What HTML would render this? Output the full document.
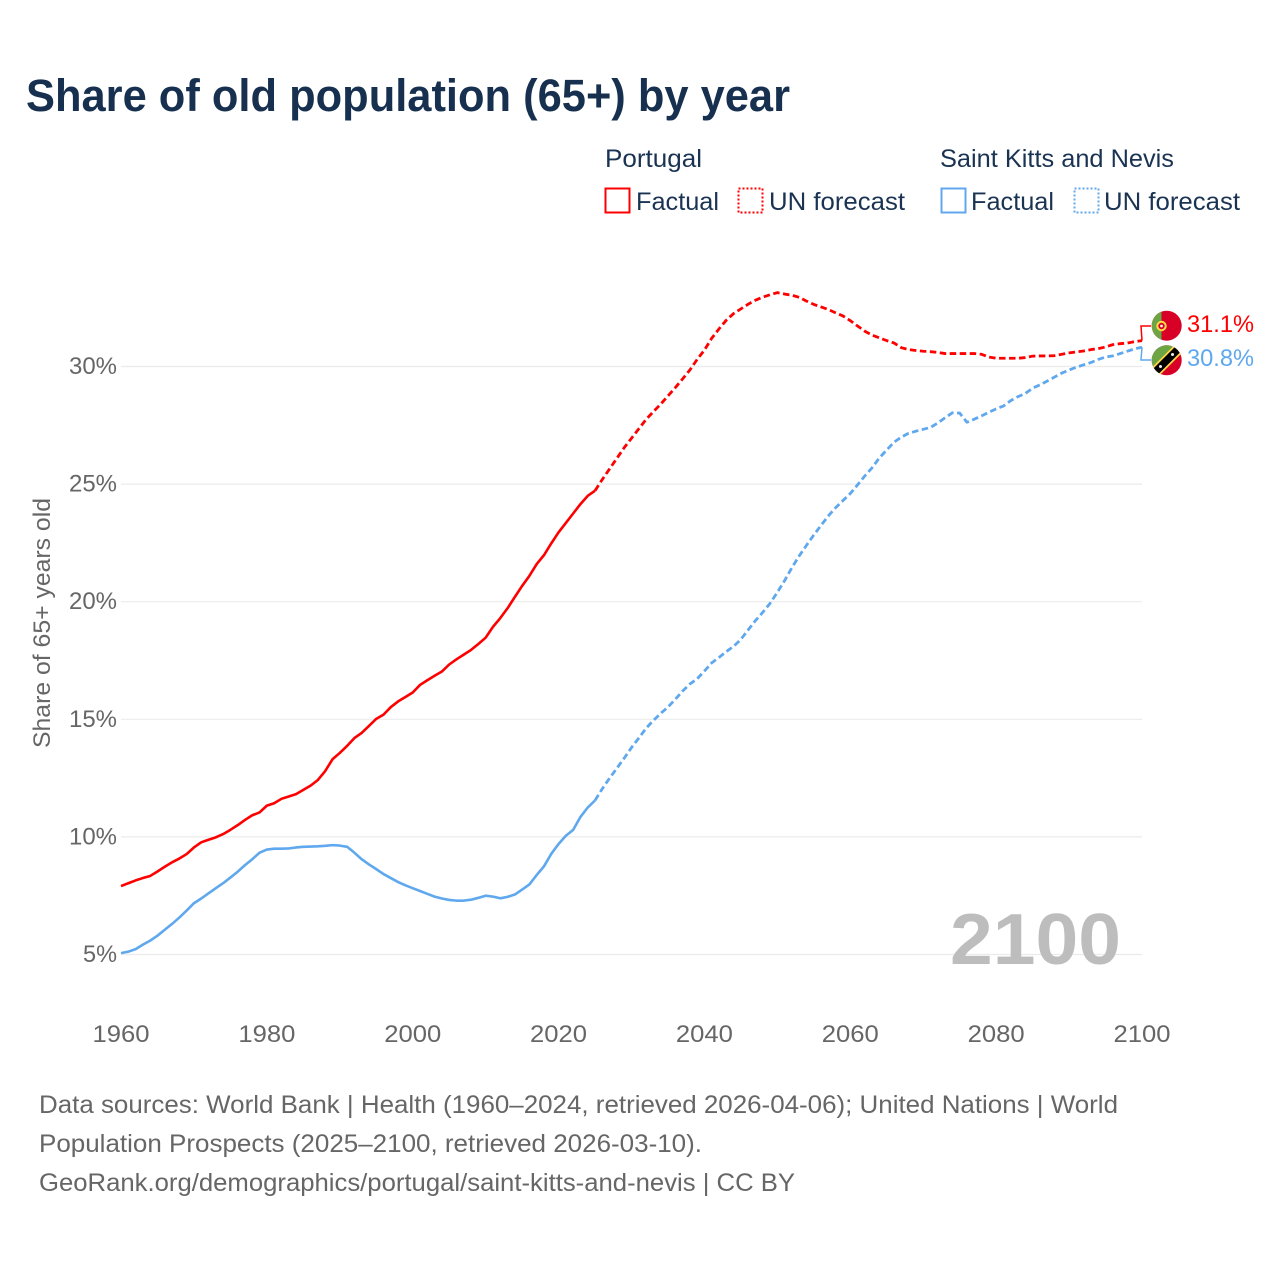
<!DOCTYPE html>
<html lang="en">
<head>
<meta charset="utf-8">
<title>Share of old population (65+) by year</title>
<style>
html,body{margin:0;padding:0;background:#fff;}
svg{display:block;font-family:"Liberation Sans",sans-serif;}
</style>
</head>
<body>
<svg id="chart" xmlns="http://www.w3.org/2000/svg" width="1280" height="1280" viewBox="0 0 1280 1280">
  <rect x="0" y="0" width="1280" height="1280" fill="#fff"/>
  <text x="26" y="111" font-size="45" font-weight="bold" fill="#17304f" textLength="764" lengthAdjust="spacingAndGlyphs">Share of old population (65+) by year</text>

  <g font-size="25" fill="#1a3352">
    <text x="605" y="167" textLength="97" lengthAdjust="spacingAndGlyphs">Portugal</text>
    <rect x="605.5" y="188.5" width="24" height="24" fill="none" stroke="#ff0000" stroke-width="2"/>
    <text x="636" y="210" textLength="83" lengthAdjust="spacingAndGlyphs">Factual</text>
    <rect x="738.5" y="188.5" width="24" height="24" fill="none" stroke="#ff0000" stroke-width="2" stroke-dasharray="2 2"/>
    <text x="769" y="210" textLength="136" lengthAdjust="spacingAndGlyphs">UN forecast</text>

    <text x="940" y="167" textLength="234" lengthAdjust="spacingAndGlyphs">Saint Kitts and Nevis</text>
    <rect x="941.5" y="188.5" width="24" height="24" fill="none" stroke="#5fa8ee" stroke-width="2"/>
    <text x="971" y="210" textLength="83" lengthAdjust="spacingAndGlyphs">Factual</text>
    <rect x="1074.5" y="188.5" width="24" height="24" fill="none" stroke="#5fa8ee" stroke-width="2" stroke-dasharray="2 2"/>
    <text x="1104" y="210" textLength="136" lengthAdjust="spacingAndGlyphs">UN forecast</text>
  </g>

  <text transform="translate(50,623) rotate(-90)" text-anchor="middle" font-size="24" fill="#666" textLength="250" lengthAdjust="spacingAndGlyphs">Share of 65+ years old</text>

  <g id="grid"></g>
  <g id="yticks"></g>
  <g id="xticks"></g>

  <text x="950" y="964" font-size="72" font-weight="bold" fill="#bdbdbd" textLength="171" lengthAdjust="spacingAndGlyphs">2100</text>

  <g id="series"></g>

  <defs>
    <clipPath id="clip-pt"><circle cx="1166.7" cy="325.7" r="15"/></clipPath>
    <clipPath id="clip-kn"><circle cx="1166.7" cy="360.3" r="15"/></clipPath>
  </defs>
  <g clip-path="url(#clip-pt)">
    <rect x="1151" y="310" width="32" height="32" fill="#d80027"/>
    <rect x="1151" y="310" width="10.5" height="32" fill="#6da544"/>
    <circle cx="1161.5" cy="326" r="4.2" fill="#d80027" stroke="#ffda44" stroke-width="2"/>
    <circle cx="1161.5" cy="326" r="1.4" fill="#eee"/>
  </g>
  <g clip-path="url(#clip-kn)">
    <rect x="1151" y="345" width="32" height="32" fill="#d80027"/>
    <path d="M1151 345H1183L1151 377Z" fill="#6da544"/>
    <path d="M1151 375L1181 345" stroke="#ffda44" stroke-width="11" fill="none" transform="translate(.6,.6)"/>
    <path d="M1151 375L1181 345" stroke="#000" stroke-width="7.5" fill="none" transform="translate(.6,.6)"/>
    <circle cx="1160.5" cy="366.5" r="1.5" fill="#eee"/>
    <circle cx="1172.5" cy="354.5" r="1.5" fill="#eee"/>
  </g>

  <text x="39" y="1113" font-size="25" fill="#666" textLength="1079" lengthAdjust="spacingAndGlyphs">Data sources: World Bank | Health (1960–2024, retrieved 2026-04-06); United Nations | World</text>
  <text x="39" y="1152" font-size="25" fill="#666" textLength="663" lengthAdjust="spacingAndGlyphs">Population Prospects (2025–2100, retrieved 2026-03-10).</text>
  <text x="39" y="1191" font-size="25" fill="#666" textLength="756" lengthAdjust="spacingAndGlyphs">GeoRank.org/demographics/portugal/saint-kitts-and-nevis | CC BY</text>
</svg>

<script>
const yTicks = [5, 10, 15, 20, 25, 30];
const xTicks = [1960, 1980, 2000, 2020, 2040, 2060, 2080, 2100];
const factualStartYear = 1960;
const forecastStartYear = 2025;

const portugalFactual = [
  7.91, 8.03, 8.15, 8.25, 8.34, 8.53, 8.73, 8.92, 9.08, 9.27,
  9.55, 9.77, 9.88, 9.98, 10.12, 10.3, 10.5, 10.72, 10.92, 11.04,
  11.33, 11.43, 11.62, 11.72, 11.82, 12.0, 12.18, 12.42, 12.8, 13.3,
  13.57, 13.87, 14.2, 14.42, 14.72, 15.02, 15.2, 15.52, 15.76, 15.95,
  16.14, 16.46, 16.66, 16.85, 17.03, 17.33, 17.55, 17.75, 17.95, 18.2,
  18.47, 18.93, 19.3, 19.72, 20.2, 20.67, 21.1, 21.6, 21.98, 22.48,
  22.95, 23.35, 23.75, 24.15, 24.5, 24.72
];
const portugalForecast = [
  24.72, 25.2, 25.65, 26.1, 26.55, 26.95, 27.35, 27.75, 28.08, 28.4,
  28.75, 29.1, 29.47, 29.85, 30.3, 30.7, 31.2, 31.6, 31.97, 32.25,
  32.45, 32.65, 32.82, 32.95, 33.05, 33.14, 33.08, 33.03, 32.94, 32.78,
  32.64, 32.53, 32.42, 32.28, 32.15, 31.95, 31.72, 31.5, 31.33, 31.22,
  31.1, 31.0, 30.8, 30.72, 30.68, 30.65, 30.63, 30.6, 30.55, 30.55,
  30.55, 30.55, 30.55, 30.52, 30.4, 30.35, 30.35, 30.35, 30.35, 30.38,
  30.44, 30.45, 30.45, 30.46, 30.52, 30.58, 30.62, 30.66, 30.72, 30.76,
  30.83, 30.93, 30.97, 31.0, 31.06, 31.1
];
const kittsFactual = [
  5.06, 5.12, 5.23, 5.42, 5.59, 5.8, 6.05, 6.3, 6.57, 6.87,
  7.18, 7.38, 7.6, 7.82, 8.03, 8.27, 8.52, 8.8, 9.05, 9.33,
  9.46, 9.5, 9.5, 9.51, 9.55, 9.58, 9.59, 9.6, 9.62, 9.65,
  9.63, 9.58, 9.33, 9.05, 8.83, 8.63, 8.42, 8.25, 8.08, 7.94,
  7.82, 7.7, 7.58, 7.46, 7.38, 7.32, 7.29, 7.29, 7.33, 7.41,
  7.5, 7.46, 7.39, 7.45, 7.55, 7.76, 7.98, 8.38, 8.75, 9.28,
  9.7, 10.05, 10.3, 10.85, 11.25, 11.55
];
const kittsForecast = [
  11.55, 12.05, 12.5, 12.92, 13.35, 13.8, 14.2, 14.62, 14.95, 15.25,
  15.52, 15.85, 16.2, 16.5, 16.72, 17.05, 17.4, 17.63, 17.88, 18.1,
  18.4, 18.8, 19.2, 19.55, 19.93, 20.4, 20.9, 21.45, 21.95, 22.4,
  22.84, 23.25, 23.65, 24.0, 24.3, 24.6, 24.97, 25.35, 25.7, 26.12,
  26.45, 26.78, 27.0, 27.16, 27.25, 27.33, 27.41, 27.6, 27.82, 28.03,
  28.02, 27.63, 27.76, 27.9, 28.05, 28.2, 28.32, 28.55, 28.72, 28.85,
  29.08, 29.22, 29.38, 29.55, 29.72, 29.85, 29.97, 30.07, 30.17, 30.3,
  30.4, 30.45, 30.55, 30.65, 30.75, 30.82
];

const NS = 'http://www.w3.org/2000/svg';
const xScale = function (year) { return 121 + (year - 1960) * (1142 - 121) / 140; };
const yScale = function (v) { return 954.5 - (v - 5) * 23.52; };
const RED = '#ff0000';
const BLUE = '#5fa8ee';

function svgEl(tag, parent) {
  const el = document.createElementNS(NS, tag);
  parent.appendChild(el);
  return el;
}
function linePath(values, startYear) {
  return values.map(function (v, i) {
    return (i ? 'L' : 'M') + xScale(startYear + i).toFixed(2) + ' ' + yScale(v).toFixed(2);
  }).join('');
}

const grid = document.getElementById('grid');
const yGroup = document.getElementById('yticks');
const xGroup = document.getElementById('xticks');
const seriesGroup = document.getElementById('series');

yTicks.forEach(function (t) {
  const line = svgEl('line', grid);
  
  
  line.setAttribute('x1', xScale(1960));
  line.setAttribute('x2', xScale(2100));
  line.setAttribute('y1', yScale(t));
  line.setAttribute('y2', yScale(t));
  line.setAttribute('stroke', '#ebebeb');
  line.setAttribute('stroke-width', '1.2');

  const label = svgEl('text', yGroup);
  
  
  label.setAttribute('x', 117);
  label.setAttribute('y', yScale(t) + 7.5);
  label.setAttribute('text-anchor', 'end');
  label.setAttribute('font-size', '24');
  label.setAttribute('fill', '#666');
  label.setAttribute('textLength', t < 10 ? '34' : '48');
  label.setAttribute('lengthAdjust', 'spacingAndGlyphs');
  label.textContent = t + '%';
});

xTicks.forEach(function (t) {
  const label = svgEl('text', xGroup);
  
  
  label.setAttribute('x', xScale(t));
  label.setAttribute('y', 1042);
  label.setAttribute('text-anchor', 'middle');
  label.setAttribute('font-size', '24');
  label.setAttribute('fill', '#666');
  label.setAttribute('textLength', '57');
  label.setAttribute('lengthAdjust', 'spacingAndGlyphs');
  label.textContent = t;
});

function drawLine(name, values, startYear, color, dashed) {
  const p = svgEl('path', seriesGroup);
  
  
  p.setAttribute('d', linePath(values, startYear));
  p.setAttribute('fill', 'none');
  p.setAttribute('stroke', color);
  p.setAttribute('stroke-width', dashed ? '2.8' : '2.6');
  p.setAttribute('stroke-linejoin', 'round');
  if (dashed) p.setAttribute('stroke-dasharray', '6.5 3.5');
}
drawLine('line-portugal-factual', portugalFactual, factualStartYear, RED, false);
drawLine('line-portugal-forecast', portugalForecast, forecastStartYear, RED, true);
drawLine('line-kitts-factual', kittsFactual, factualStartYear, BLUE, false);
drawLine('line-kitts-forecast', kittsForecast, forecastStartYear, BLUE, true);

const ptLast = portugalForecast[portugalForecast.length - 1];
const knLast = kittsForecast[kittsForecast.length - 1];

const connPt = svgEl('path', seriesGroup);


connPt.setAttribute('d', 'M' + xScale(2100) + ' ' + yScale(ptLast) + 'L1141 326H1151');
connPt.setAttribute('fill', 'none');
connPt.setAttribute('stroke', RED);
connPt.setAttribute('stroke-width', '1.5');

const connKn = svgEl('path', seriesGroup);


connKn.setAttribute('d', 'M' + xScale(2100) + ' ' + yScale(knLast) + 'L1141 360H1151');
connKn.setAttribute('fill', 'none');
connKn.setAttribute('stroke', BLUE);
connKn.setAttribute('stroke-width', '1.5');

const endPt = svgEl('text', seriesGroup);


endPt.setAttribute('x', 1187);
endPt.setAttribute('y', 332);
endPt.setAttribute('font-size', '24');
endPt.setAttribute('fill', RED);
endPt.setAttribute('textLength', '67');
endPt.setAttribute('lengthAdjust', 'spacingAndGlyphs');
endPt.textContent = ptLast.toFixed(1) + '%';

const endKn = svgEl('text', seriesGroup);


endKn.setAttribute('x', 1187);
endKn.setAttribute('y', 366);
endKn.setAttribute('font-size', '24');
endKn.setAttribute('fill', BLUE);
endKn.setAttribute('textLength', '67');
endKn.setAttribute('lengthAdjust', 'spacingAndGlyphs');
endKn.textContent = knLast.toFixed(1) + '%';
</script>
</body>
</html>
